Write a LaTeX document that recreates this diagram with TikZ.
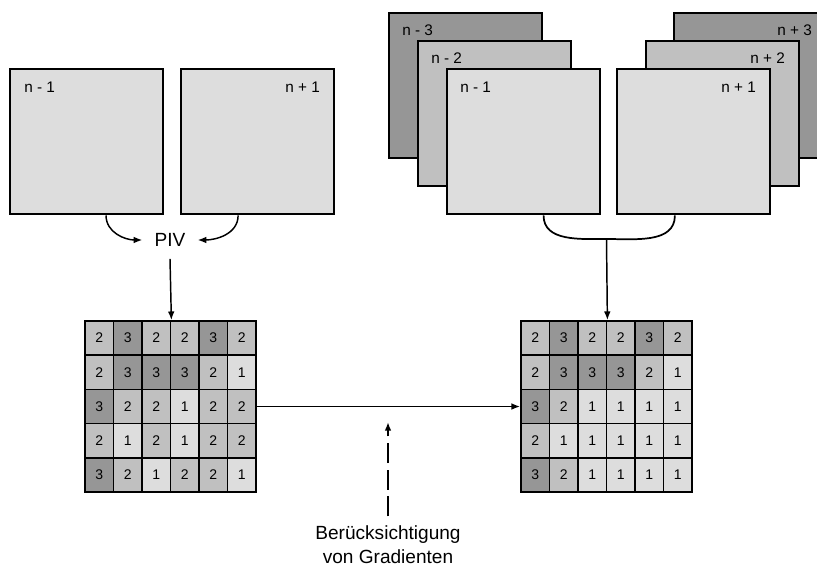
\documentclass[tikz,border=0pt]{standalone}
\usepackage{fontspec}
\setmainfont{Liberation Sans}
\usetikzlibrary{arrows.meta}

\definecolor{shade1}{HTML}{DDDDDD}
\definecolor{shade2}{HTML}{C0C0C0}
\definecolor{shade3}{HTML}{969696}

\tikzset{
  frame/.style={draw, line width=1.6pt, anchor=north west, inner sep=0pt,
    minimum width=114.75pt, minimum height=109pt},
  lab/.style={inner sep=0pt, font=\fontsize{11.5}{13}\selectfont},
  cell/.style={draw, line width=1.3pt, inner sep=0pt, minimum width=21.4pt,
    minimum height=25.65pt, font=\fontsize{10.5}{12}\selectfont},
  conn/.style={-{Latex[length=6.5pt,width=5pt]}, line width=1.1pt},
  bigtext/.style={font=\fontsize{14.3}{18}\selectfont, align=center}
}

\begin{document}
\begin{tikzpicture}[x=0.75pt, y=-0.75pt]
            \useasboundingbox (0,0) rectangle (817,567);
            \clip (0,0) rectangle (817,567);

            % Single pair of frames
            \node[frame, fill=shade1] (fl1) at (9,68) {};
            \node[lab, anchor=west] (lbl-fl1) at ([shift={(15,19)}]fl1.north west) {n - 1};
            \node[frame, fill=shade1] (fl2) at (180,68) {};
            \node[lab, anchor=east] (lbl-fl2) at ([shift={(-15,19)}]fl2.north east) {n + 1};

            % PIV
            \node[bigtext, inner sep=9pt] (piv) at (170,240) {PIV};
            \draw[conn] ([xshift=14.6pt]fl1.south) to[out=-90,in=180] (piv.west);
            \draw[conn] ([xshift=-14.6pt]fl2.south) to[out=-90,in=0] (piv.east);

            % Stacked frames, left side
            \node[frame, fill=shade3] (fm3) at (388,12) {};
            \node[lab, anchor=west] (lbl-fm3) at ([shift={(14,18)}]fm3.north west) {n - 3};
            \node[frame, fill=shade2] (fm2) at (417,40) {};
            \node[lab, anchor=west] (lbl-fm2) at ([shift={(14,18)}]fm2.north west) {n - 2};
            \node[frame, fill=shade1] (fm1) at (446,68) {};
            \node[lab, anchor=west] (lbl-fm1) at ([shift={(14,19)}]fm1.north west) {n - 1};

            % Stacked frames, right side
            \node[frame, fill=shade3] (fp3) at (673,12) {};
            \node[lab, anchor=east] (lbl-fp3) at ([shift={(-16,18)}]fp3.north east) {n + 3};
            \node[frame, fill=shade2] (fp2) at (645,40) {};
            \node[lab, anchor=east] (lbl-fp2) at ([shift={(-15,18)}]fp2.north east) {n + 2};
            \node[frame, fill=shade1] (fp1) at (616,68) {};
            \node[lab, anchor=east] (lbl-fp1) at ([shift={(-15,19)}]fp1.north east) {n + 1};

            % Left map
            \foreach \row [count=\r] in {{2,3,2,2,3,2},{2,3,3,3,2,1},{3,2,2,1,2,2},{2,1,2,1,2,2},{3,2,1,2,2,1}} {
              \foreach \v [count=\c] in \row {
                \node[cell, fill=shade\v] (a-\r-\c) at ({85+(\c-0.5)*28.5},{321+(\r-0.5)*34.2}) {\v};
              }
            }

            % Right map
            \foreach \row [count=\r] in {{2,3,2,2,3,2},{2,3,3,3,2,1},{3,2,1,1,1,1},{2,1,1,1,1,1},{3,2,1,1,1,1}} {
              \foreach \v [count=\c] in \row {
                \node[cell, fill=shade\v] (b-\r-\c) at ({521+(\c-0.5)*28.5},{321+(\r-0.5)*34.2}) {\v};
              }
            }

            \draw[conn] (piv.south) -- (a-1-3.north east);

            % Joining the stack
            \coordinate (join) at (606.5,239);
            \draw[line width=1.3pt] ([xshift=15pt]fm1.south) to[out=-90,in=180] (join) to[out=0,in=-90] ([xshift=-14pt]fp1.south);
            \draw[conn] (join) -- (b-1-3.north east);

            \draw[conn] (a-3-6.east) -- (b-3-1.west);

            % Gradient hint
            \node[bigtext, inner sep=0pt] (grad) at (388,545) {Berücksichtigung\\von Gradienten};
            \coordinate (gtip) at (388,422);
            \draw[conn, line width=1.6pt, dash pattern=on 15pt off 5pt] ([yshift=7pt]grad.north) -- (gtip);
\end{tikzpicture}
\end{document}
